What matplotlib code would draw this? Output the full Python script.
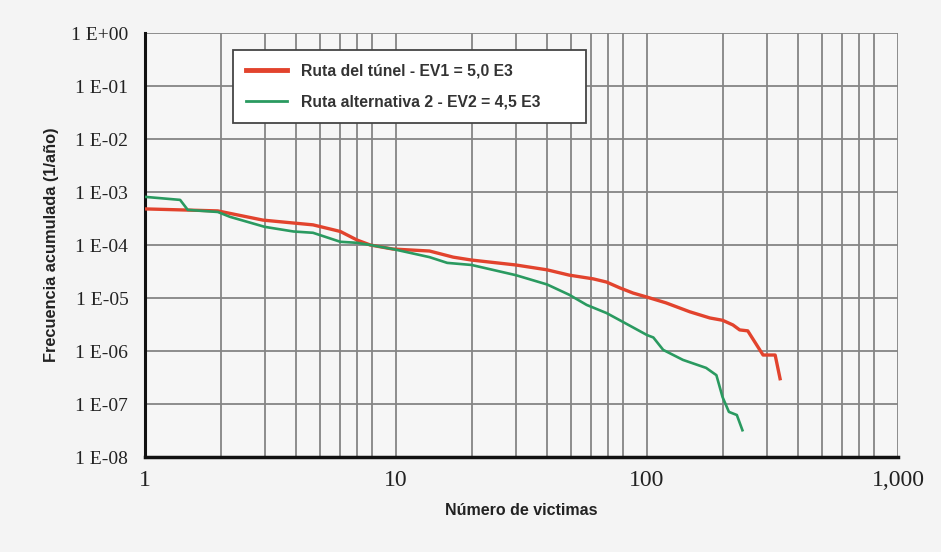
import matplotlib
matplotlib.use("Agg")
import matplotlib.pyplot as plt
from matplotlib.ticker import FixedLocator, NullFormatter

# ---- data ----
red_x = [1, 1.95, 2.95, 3.9, 4.67, 6, 7, 7.9, 9.7, 13.6, 16.9, 20, 30, 40, 49,
         61, 69, 78, 88, 100, 119, 148, 178, 200, 220, 234, 252, 290, 324, 339]
red_y = [4.8e-4, 4.4e-4, 2.95e-4, 2.6e-4, 2.4e-4, 1.8e-4, 1.24e-4, 1.0e-4, 8.4e-5,
         7.7e-5, 5.9e-5, 5.2e-5, 4.2e-5, 3.4e-5, 2.7e-5, 2.3e-5, 2.0e-5, 1.55e-5,
         1.24e-5, 1.04e-5, 8.1e-6, 5.5e-6, 4.2e-6, 3.8e-6, 3.1e-6, 2.5e-6, 2.4e-6,
         8.4e-7, 8.4e-7, 3.0e-7]

green_x = [1, 1.38, 1.48, 1.95, 2.18, 3, 3.9, 4.67, 6, 7, 7.9, 9.7, 13.6, 16, 20,
           30, 40, 49, 57.5, 69, 78, 100, 106, 116, 139, 172, 189, 200, 212, 228, 240]
green_y = [8.1e-4, 7.1e-4, 4.6e-4, 4.2e-4, 3.4e-4, 2.2e-4, 1.8e-4, 1.7e-4, 1.15e-4,
           1.1e-4, 1.0e-4, 8.4e-5, 5.9e-5, 4.6e-5, 4.2e-5, 2.7e-5, 1.8e-5, 1.15e-5,
           7.4e-6, 5.2e-6, 3.8e-6, 2.0e-6, 1.8e-6, 1.05e-6, 6.8e-7, 4.8e-7, 3.5e-7,
           1.35e-7, 7.1e-8, 6.2e-8, 3.2e-8]

series_labels = ["Ruta del túnel - EV1 = 5,0 E3", "Ruta alternativa 2 - EV2 = 4,5 E3"]

x_ticks = [1, 10, 100, 1000]
x_ticklabels = ["1", "10", "100", "1,000"]
y_ticks = [1e0, 1e-1, 1e-2, 1e-3, 1e-4, 1e-5, 1e-6, 1e-7, 1e-8]
y_ticklabels = ["1 E+00", "1 E-01", "1 E-02", "1 E-03", "1 E-04",
                "1 E-05", "1 E-06", "1 E-07", "1 E-08"]
x_minor_grid = [m * d for d in (1, 10, 100) for m in (2, 3, 4, 5, 6, 7, 8)]

# ---- figure ----
fig = plt.figure(figsize=(9.41, 5.52), dpi=100)
fig.patch.set_facecolor("#f4f4f4")
ax = fig.add_axes([0.1541, 0.1721, 0.8002, 0.7681])
ax.set_facecolor("#f6f6f6")

ax.set_xscale("log")
ax.set_yscale("log")
ax.set_xlim(1, 1000)
ax.set_ylim(1e-8, 1)

grid_c = "#858585"
ax.set_xticks(x_ticks)
ax.set_xticklabels(x_ticklabels, family="Liberation Serif", fontsize=17, color="#222222")
ax.xaxis.set_minor_locator(FixedLocator(x_minor_grid))
ax.xaxis.set_minor_formatter(NullFormatter())
ax.set_yticks(y_ticks)
ax.set_yticklabels(y_ticklabels, family="Liberation Serif", fontsize=14, color="#222222")
ax.yaxis.set_minor_locator(FixedLocator([]))

ax.grid(True, which="major", color=grid_c, lw=1.3)
ax.grid(True, which="minor", axis="x", color=grid_c, lw=1.3)
ax.tick_params(which="both", length=0)
ax.tick_params(axis="y", pad=12)
ax.tick_params(axis="x", pad=9)

for s in ("top", "right"):
    ax.spines[s].set_visible(False)
ax.spines["left"].set_linewidth(2.2)
ax.spines["bottom"].set_linewidth(2.5)
ax.spines["left"].set_color("#111111")
ax.spines["bottom"].set_color("#111111")
ax.set_axisbelow(True)

ax.plot(red_x, red_y, color="#e2432d", lw=2.4, label=series_labels[0], zorder=3)
ax.plot(green_x, green_y, color="#2a9a60", lw=1.9, label=series_labels[1], zorder=3)

ax.set_xlabel("Número de victimas", family="Liberation Sans", fontweight="bold",
              fontsize=11.5, color="#222222", labelpad=9)
ax.set_ylabel("Frecuencia acumulada (1/año)", family="Liberation Sans", fontweight="bold",
              fontsize=11.8, color="#222222", labelpad=9)

leg = ax.legend(loc="upper left", bbox_to_anchor=(0.117, 0.788, 0.469, 0.172),
                mode="expand", frameon=True,
                fancybox=False, edgecolor="#444444", facecolor="white", framealpha=1,
                prop={"family": "Liberation Sans", "weight": "bold", "size": 11.3},
                handlelength=2.6, borderpad=0.85, labelspacing=1.05, handletextpad=0.85,
                borderaxespad=0)
leg.get_frame().set_linewidth(1.3)
for t in leg.get_texts():
    t.set_color("#333333")
leg.get_lines()[0].set_linewidth(3.5)
leg.get_lines()[1].set_linewidth(2.0)

fig.savefig("out.png", dpi=100, facecolor=fig.get_facecolor())
